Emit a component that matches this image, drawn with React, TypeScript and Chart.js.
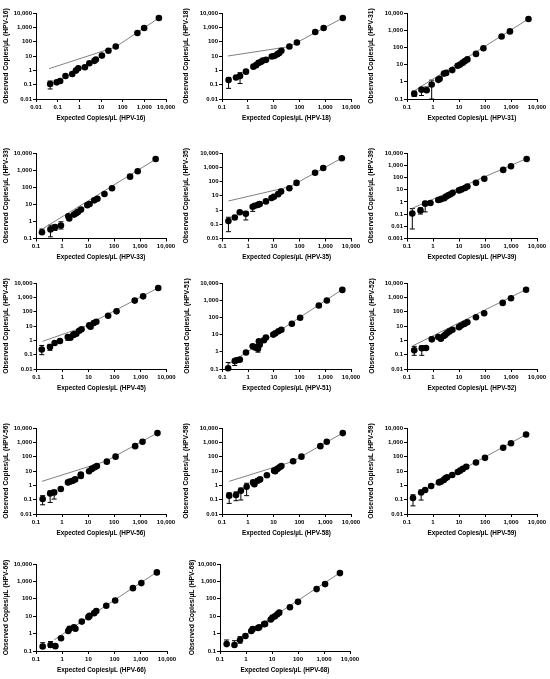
import React, { useEffect, useRef } from "react";
import { Chart, registerables } from "chart.js";
Chart.register(...registerables);

const TICK_VALUES = [0.001, 0.01, 0.1, 1, 10, 100, 1000, 10000];
const TICK_LABELS = ["0.001", "0.01", "0.1", "1", "10", "100", "1,000", "10,000"];

// ---- HPV-16
const HPV16_X = [0.045, 0.09, 0.13, 0.23, 0.47, 0.7, 0.9, 1.8, 2.9, 5, 5.8, 11, 22, 48, 480, 980, 4700];
const HPV16_Y = [0.11, 0.145, 0.18, 0.4, 0.56, 0.96, 1.4, 1.65, 3.1, 4.6, 5.6, 10.7, 23, 46, 400, 890, 4500];
const HPV16_ERR_I = [0];
const HPV16_ERR_LO = [0.05];
const HPV16_ERR_HI = [0.18];
const HPV16_LINE_X = [0.04, 46, 4700];
const HPV16_LINE_Y = [1.3, 42, 4500];
// ---- HPV-18
const HPV18_X = [0.18, 0.35, 0.5, 0.85, 1.65, 2.1, 2.6, 3.3, 3.8, 5.1, 8.5, 10.5, 14, 16.5, 20, 41, 80, 410, 870, 4800];
const HPV18_Y = [0.21, 0.32, 0.4, 0.81, 1.8, 2.3, 3.3, 3.9, 4.8, 5.4, 9.2, 10, 13, 16, 23, 46, 87, 470, 890, 4500];
const HPV18_ERR_I = [0, 2];
const HPV18_ERR_LO = [0.055, 0.12];
const HPV18_ERR_HI = [0.32, 0.69];
const HPV18_LINE_X = [0.17, 40, 4800];
const HPV18_LINE_Y = [10, 45, 4500];
// ---- HPV-31
const HPV31_X = [0.19, 0.36, 0.57, 0.89, 1.6, 1.8, 2.65, 3.2, 5.5, 8.9, 11, 14, 17, 21, 45, 87, 435, 910, 4700];
const HPV31_Y = [0.2, 0.35, 0.32, 0.69, 1.3, 1.5, 3.0, 3.3, 4.8, 8.5, 10, 13, 16, 20, 42, 89, 430, 850, 4470];
const HPV31_ERR_I = [0, 1, 2, 3];
const HPV31_ERR_LO = [0.14, 0.16, 0.28, 0.1];
const HPV31_ERR_HI = [0.29, 0.46, 0.5, 1.25];
const HPV31_LINE_X = [0.19, 4700];
const HPV31_LINE_Y = [0.3, 4500];
// ---- HPV-33
const HPV33_X = [0.17, 0.36, 0.54, 0.91, 1.75, 1.9, 2.9, 3.5, 4.1, 5.4, 9.4, 11.5, 17.5, 23, 43, 84, 415, 815, 4000];
const HPV33_Y = [0.23, 0.34, 0.46, 0.57, 2.0, 1.47, 2.5, 3.0, 3.6, 4.9, 8.9, 10.5, 17, 21, 40, 87, 415, 850, 4470];
const HPV33_ERR_I = [0, 1, 2, 3];
const HPV33_ERR_LO = [0.19, 0.125, 0.3, 0.36];
const HPV33_ERR_HI = [0.36, 0.6, 0.6, 0.95];
const HPV33_LINE_X = [0.17, 4000];
const HPV33_LINE_Y = [0.35, 4300];
// ---- HPV-35
const HPV35_X = [0.17, 0.3, 0.47, 0.81, 1.5, 1.8, 2.4, 2.8, 4.9, 8.1, 10, 14.7, 19, 40, 76, 400, 830, 4400];
const HPV35_Y = [0.17, 0.3, 0.7, 0.55, 1.7, 2.0, 2.3, 2.6, 4.0, 7, 8.5, 13, 20, 34, 80, 410, 880, 4300];
const HPV35_ERR_I = [0, 3, 4];
const HPV35_ERR_LO = [0.03, 0.2, 0.8];
const HPV35_ERR_HI = [0.31, 0.8, 1.9];
const HPV35_LINE_X = [0.17, 42, 4400];
const HPV35_LINE_Y = [4.3, 43, 4400];
// ---- HPV-39
const HPV39_X = [0.16, 0.33, 0.5, 0.8, 1.6, 2.0, 2.7, 3.2, 3.9, 4.7, 5.7, 10, 12.5, 17, 21, 45, 94, 500, 1000, 4000];
const HPV39_Y = [0.11, 0.2, 0.71, 0.81, 1.4, 1.6, 2.0, 2.7, 3.4, 4.2, 5.6, 8.7, 10.5, 13.5, 18, 36, 78, 415, 830, 3250];
const HPV39_ERR_I = [0, 1, 2];
const HPV39_ERR_LO = [0.006, 0.1, 0.15];
const HPV39_ERR_HI = [0.28, 0.32, 1.1];
const HPV39_LINE_X = [0.16, 4000];
const HPV39_LINE_Y = [0.3, 3500];
// ---- HPV-45
const HPV45_X = [0.16, 0.33, 0.5, 0.8, 1.6, 2.0, 2.6, 2.8, 3.4, 4.4, 5.4, 10.7, 12, 16, 20, 57, 120, 600, 1260, 4800];
const HPV45_Y = [0.23, 0.34, 0.65, 0.9, 1.7, 1.5, 2.4, 2.6, 2.9, 4.7, 6, 11, 9, 16, 20, 52, 105, 590, 1170, 4500];
const HPV45_ERR_I = [0, 1, 4];
const HPV45_ERR_LO = [0.1, 0.2, 1.0];
const HPV45_ERR_HI = [0.44, 0.52, 1.7];
const HPV45_LINE_X = [0.17, 6, 4800];
const HPV45_LINE_Y = [0.85, 8, 4600];
// ---- HPV-51
const HPV51_X = [0.166, 0.3, 0.35, 0.47, 0.82, 1.5, 1.85, 2.4, 2.6, 2.8, 4.1, 4.9, 9.5, 11.5, 15, 19.5, 50, 105, 560, 1150, 4600];
const HPV51_Y = [0.11, 0.29, 0.32, 0.35, 0.91, 2.1, 1.8, 1.5, 4.1, 2.6, 4.7, 6.7, 10, 12, 15.6, 19, 43, 96, 490, 960, 3960];
const HPV51_ERR_I = [0, 1, 7];
const HPV51_ERR_LO = [0.1, 0.16, 0.95];
const HPV51_ERR_HI = [0.24, 0.37, 2.7];
const HPV51_LINE_X = [0.18, 4600];
const HPV51_LINE_Y = [0.2, 4200];
// ---- HPV-52
const HPV52_X = [0.19, 0.37, 0.54, 0.9, 1.6, 2.0, 2.6, 3.0, 3.5, 4.3, 5.6, 10, 12, 16, 21, 45, 93, 480, 1000, 3800];
const HPV52_Y = [0.2, 0.28, 0.29, 1.17, 1.7, 1.3, 2.0, 2.5, 3.2, 4.2, 5.5, 8.3, 10.7, 14, 18, 41, 78, 410, 860, 3400];
const HPV52_ERR_I = [0, 1, 3, 5];
const HPV52_ERR_LO = [0.09, 0.09, 0.9, 1.0];
const HPV52_ERR_HI = [0.38, 0.42, 1.7, 1.7];
const HPV52_LINE_X = [0.17, 3800];
const HPV52_LINE_Y = [0.42, 3500];
// ---- HPV-56
const HPV56_X = [0.18, 0.35, 0.5, 0.9, 1.7, 2.0, 2.6, 3.2, 5.3, 5.3, 11, 14, 18, 22, 53, 115, 650, 1250, 4700];
const HPV56_Y = [0.11, 0.27, 0.32, 0.55, 1.6, 1.8, 2.1, 2.6, 5.6, 4.5, 9.6, 14, 18, 22, 45, 100, 540, 1100, 4400];
const HPV56_ERR_I = [0, 1, 2];
const HPV56_ERR_LO = [0.044, 0.064, 0.11];
const HPV56_ERR_HI = [0.19, 0.42, 0.47];
const HPV56_LINE_X = [0.17, 48, 4700];
const HPV56_LINE_Y = [1.9, 48, 4500];
// ---- HPV-58
const HPV58_X = [0.19, 0.35, 0.54, 0.9, 1.6, 1.8, 2.4, 3.0, 5.5, 10.5, 11.5, 14, 17, 20, 57, 120, 650, 1150, 4800];
const HPV58_Y = [0.19, 0.21, 0.42, 0.8, 1.6, 1.2, 2.1, 2.6, 5, 10.6, 9.6, 14, 18, 22, 48, 100, 540, 1100, 4400];
const HPV58_ERR_I = [0, 1, 2, 3, 4];
const HPV58_ERR_LO = [0.055, 0.085, 0.095, 0.19, 1.1];
const HPV58_ERR_HI = [0.3, 0.35, 0.65, 1.4, 1.9];
const HPV58_LINE_X = [0.19, 53, 4800];
const HPV58_LINE_Y = [1.9, 45, 4500];
// ---- HPV-59
const HPV59_X = [0.17, 0.35, 0.5, 0.85, 1.7, 2.0, 2.6, 3.0, 3.5, 5.5, 9, 11, 14, 19, 45, 100, 500, 1000, 3800];
const HPV59_Y = [0.13, 0.32, 0.47, 0.9, 1.6, 1.8, 2.4, 3.1, 3.6, 5.3, 8.6, 10.6, 14, 20, 39, 83, 415, 870, 3500];
const HPV59_ERR_I = [0, 1];
const HPV59_ERR_LO = [0.037, 0.094];
const HPV59_ERR_HI = [0.22, 0.47];
const HPV59_LINE_X = [0.3, 3800];
const HPV59_LINE_Y = [0.3, 3500];
// ---- HPV-66
const HPV66_X = [0.18, 0.36, 0.55, 0.9, 1.7, 1.9, 2.8, 3.2, 5.6, 10, 11, 16.6, 20, 48, 105, 500, 1050, 4100];
const HPV66_Y = [0.18, 0.22, 0.19, 0.54, 1.4, 1.9, 2.3, 1.9, 4.9, 8.8, 10.4, 15, 20, 40, 80, 410, 800, 3300];
const HPV66_ERR_I = [0, 1];
const HPV66_ERR_LO = [0.14, 0.16];
const HPV66_ERR_HI = [0.3, 0.35];
const HPV66_LINE_X = [0.5, 4100];
const HPV66_LINE_Y = [0.45, 3400];
// ---- HPV-68
const HPV68_X = [0.18, 0.36, 0.59, 0.95, 1.6, 1.8, 2.9, 3.2, 5.0, 5.4, 9, 10.5, 13, 16, 19, 49, 100, 520, 1100, 4100];
const HPV68_Y = [0.25, 0.22, 0.43, 0.73, 1.4, 1.8, 2.1, 2.3, 3.5, 3.6, 6.4, 8.4, 10, 13, 16, 33, 67, 360, 700, 3000];
const HPV68_ERR_I = [0, 1, 2];
const HPV68_ERR_LO = [0.22, 0.2, 0.28];
const HPV68_ERR_HI = [0.43, 0.39, 0.67];
const HPV68_LINE_X = [0.5, 4100];
const HPV68_LINE_Y = [0.45, 3100];

type PanelData = {
  name: string;
  x: number[]; y: number[];
  ei: number[]; elo: number[]; ehi: number[];
  lx: number[]; ly: number[];
  xMin: number; yMin: number;
};

const PANELS: PanelData[] = [
  { name: "HPV-16", x: HPV16_X, y: HPV16_Y, ei: HPV16_ERR_I, elo: HPV16_ERR_LO, ehi: HPV16_ERR_HI, lx: HPV16_LINE_X, ly: HPV16_LINE_Y, xMin: 0.01, yMin: 0.01 },
  { name: "HPV-18", x: HPV18_X, y: HPV18_Y, ei: HPV18_ERR_I, elo: HPV18_ERR_LO, ehi: HPV18_ERR_HI, lx: HPV18_LINE_X, ly: HPV18_LINE_Y, xMin: 0.1, yMin: 0.01 },
  { name: "HPV-31", x: HPV31_X, y: HPV31_Y, ei: HPV31_ERR_I, elo: HPV31_ERR_LO, ehi: HPV31_ERR_HI, lx: HPV31_LINE_X, ly: HPV31_LINE_Y, xMin: 0.1, yMin: 0.1 },
  { name: "HPV-33", x: HPV33_X, y: HPV33_Y, ei: HPV33_ERR_I, elo: HPV33_ERR_LO, ehi: HPV33_ERR_HI, lx: HPV33_LINE_X, ly: HPV33_LINE_Y, xMin: 0.1, yMin: 0.1 },
  { name: "HPV-35", x: HPV35_X, y: HPV35_Y, ei: HPV35_ERR_I, elo: HPV35_ERR_LO, ehi: HPV35_ERR_HI, lx: HPV35_LINE_X, ly: HPV35_LINE_Y, xMin: 0.1, yMin: 0.01 },
  { name: "HPV-39", x: HPV39_X, y: HPV39_Y, ei: HPV39_ERR_I, elo: HPV39_ERR_LO, ehi: HPV39_ERR_HI, lx: HPV39_LINE_X, ly: HPV39_LINE_Y, xMin: 0.1, yMin: 0.001 },
  { name: "HPV-45", x: HPV45_X, y: HPV45_Y, ei: HPV45_ERR_I, elo: HPV45_ERR_LO, ehi: HPV45_ERR_HI, lx: HPV45_LINE_X, ly: HPV45_LINE_Y, xMin: 0.1, yMin: 0.01 },
  { name: "HPV-51", x: HPV51_X, y: HPV51_Y, ei: HPV51_ERR_I, elo: HPV51_ERR_LO, ehi: HPV51_ERR_HI, lx: HPV51_LINE_X, ly: HPV51_LINE_Y, xMin: 0.1, yMin: 0.1 },
  { name: "HPV-52", x: HPV52_X, y: HPV52_Y, ei: HPV52_ERR_I, elo: HPV52_ERR_LO, ehi: HPV52_ERR_HI, lx: HPV52_LINE_X, ly: HPV52_LINE_Y, xMin: 0.1, yMin: 0.01 },
  { name: "HPV-56", x: HPV56_X, y: HPV56_Y, ei: HPV56_ERR_I, elo: HPV56_ERR_LO, ehi: HPV56_ERR_HI, lx: HPV56_LINE_X, ly: HPV56_LINE_Y, xMin: 0.1, yMin: 0.01 },
  { name: "HPV-58", x: HPV58_X, y: HPV58_Y, ei: HPV58_ERR_I, elo: HPV58_ERR_LO, ehi: HPV58_ERR_HI, lx: HPV58_LINE_X, ly: HPV58_LINE_Y, xMin: 0.1, yMin: 0.01 },
  { name: "HPV-59", x: HPV59_X, y: HPV59_Y, ei: HPV59_ERR_I, elo: HPV59_ERR_LO, ehi: HPV59_ERR_HI, lx: HPV59_LINE_X, ly: HPV59_LINE_Y, xMin: 0.1, yMin: 0.01 },
  { name: "HPV-66", x: HPV66_X, y: HPV66_Y, ei: HPV66_ERR_I, elo: HPV66_ERR_LO, ehi: HPV66_ERR_HI, lx: HPV66_LINE_X, ly: HPV66_LINE_Y, xMin: 0.1, yMin: 0.1 },
  { name: "HPV-68", x: HPV68_X, y: HPV68_Y, ei: HPV68_ERR_I, elo: HPV68_ERR_LO, ehi: HPV68_ERR_HI, lx: HPV68_LINE_X, ly: HPV68_LINE_Y, xMin: 0.1, yMin: 0.1 },
];

// Layout (plot-area rectangles in page pixels) — separate from data
type Box = { titleX: number; left: number; right: number; top: number; bottom: number };
const ROWS = [
  { top: 13, bottom: 99 },
  { top: 153, bottom: 238.5 },
  { top: 283, bottom: 369 },
  { top: 428, bottom: 514 },
  { top: 564, bottom: 651 },
];
const BOXES: Box[] = [
  { titleX: 6, left: 36, right: 166, ...ROWS[0] },
  { titleX: 186, left: 222, right: 351, ...ROWS[0] },
  { titleX: 371, left: 407, right: 537, ...ROWS[0] },
  { titleX: 6, left: 36, right: 166, ...ROWS[1] },
  { titleX: 186, left: 222.5, right: 351, ...ROWS[1] },
  { titleX: 371, left: 407, right: 537, ...ROWS[1] },
  { titleX: 6, left: 36.5, right: 166.5, ...ROWS[2] },
  { titleX: 187, left: 222.5, right: 351, ...ROWS[2] },
  { titleX: 372, left: 407, right: 537, ...ROWS[2] },
  { titleX: 6, left: 36, right: 166, ...ROWS[3] },
  { titleX: 186, left: 222, right: 351, ...ROWS[3] },
  { titleX: 371, left: 407, right: 537, ...ROWS[3] },
  { titleX: 6, left: 36, right: 167, ...ROWS[4] },
  { titleX: 192, left: 220, right: 350, ...ROWS[4] },
];

const FONT = "'Liberation Sans', Arial, Helvetica, sans-serif";
const Y_TITLE_SIZE = 6.8;
const X_TITLE_SIZE = 6.4;
const TICK_SIZE = 6;
const X_AXIS_H = 23;
const PAD_TOP = 8;
const PAD_RIGHT = 14;

const errorBarPlugin = {
  id: "errorBars",
  beforeDatasetsDraw(chart: any) {
    const ctx = chart.ctx;
    const xs = chart.scales.x;
    const ys = chart.scales.y;
    chart.data.datasets.forEach((ds: any) => {
      if (!ds.errIdx) return;
      ds.errIdx.forEach((idx: number, k: number) => {
        const p = ds.data[idx];
        const px = xs.getPixelForValue(p.x);
        const y1 = ys.getPixelForValue(ds.errLo[k]);
        const y2 = ys.getPixelForValue(ds.errHi[k]);
        ctx.save();
        ctx.strokeStyle = "#000";
        ctx.lineWidth = 1;
        ctx.beginPath();
        ctx.moveTo(px, y1);
        ctx.lineTo(px, y2);
        ctx.moveTo(px - 2.5, y1);
        ctx.lineTo(px + 2.5, y1);
        ctx.moveTo(px - 2.5, y2);
        ctx.lineTo(px + 2.5, y2);
        ctx.stroke();
        ctx.restore();
      });
    });
  },
};

function tickLabel(v: number) {
  const i = TICK_VALUES.findIndex((t) => Math.abs(t - v) / t < 1e-6);
  return i >= 0 ? TICK_LABELS[i] : "";
}

function Panel({ d, box }: { d: PanelData; box: Box }) {
  const ref = useRef<HTMLCanvasElement | null>(null);
  const yLh = Y_TITLE_SIZE * 1.2;
  const canvasLeft = Math.floor(box.titleX - yLh / 2 - 1);
  const canvasTop = Math.floor(box.top - PAD_TOP);
  const width = Math.ceil(box.right + PAD_RIGHT - canvasLeft);
  const height = Math.ceil(box.bottom + X_AXIS_H - canvasTop);
  const yAxisW = box.left - canvasLeft;
  const padTop = box.top - canvasTop;
  const padRight = canvasLeft + width - box.right;
  const padBottom = canvasTop + height - (box.bottom + X_AXIS_H);
  const titlePadTop = box.titleX - canvasLeft - yLh / 2;

  useEffect(() => {
    if (!ref.current) return;
    const tickFont = { family: FONT, size: TICK_SIZE, weight: "bold" as const };
    const makeTicks = (min: number) => (s: any) => {
      s.ticks = TICK_VALUES.filter((v) => v >= min - 1e-12 && v <= 10000).map((v) => ({ value: v, major: true }));
    };
    const chart = new Chart(ref.current, {
      type: "scatter",
      data: {
        datasets: [
          {
            data: d.lx.map((x, i) => ({ x, y: d.ly[i] })),
            showLine: true,
            borderColor: "#808080",
            borderWidth: 1,
            pointRadius: 0,
            order: 2,
            clip: false,
          } as any,
          {
            data: d.x.map((x, i) => ({ x, y: d.y[i] })),
            backgroundColor: "#000",
            borderColor: "#000",
            borderWidth: 0,
            pointRadius: 3.3,
            order: 1,
            clip: false,
            errIdx: d.ei,
            errLo: d.elo,
            errHi: d.ehi,
          } as any,
        ],
      },
      options: {
        responsive: false,
        animation: false,
        events: [],
        layout: { padding: { top: padTop, right: padRight, left: 0, bottom: padBottom } },
        plugins: { legend: { display: false }, tooltip: { enabled: false } },
        scales: {
          x: {
            type: "logarithmic",
            position: "bottom",
            min: d.xMin,
            max: 10000,
            afterBuildTicks: makeTicks(d.xMin),
            afterFit: (s: any) => {
              s.height = X_AXIS_H;
            },
            ticks: {
              callback: (v: any) => tickLabel(Number(v)),
              autoSkip: false,
              maxRotation: 0,
              minRotation: 0,
              padding: 1.5,
              color: "#000",
              font: tickFont,
            },
            grid: { drawOnChartArea: false, drawTicks: true, tickLength: 3, color: "#000", lineWidth: 1 },
            border: { display: true, color: "#000", width: 1 },
            title: {
              display: true,
              text: `Expected Copies/µL (${d.name})`,
              color: "#000",
              font: { family: FONT, size: X_TITLE_SIZE, weight: "bold" },
              padding: { top: 0, bottom: 0 },
            },
          },
          y: {
            type: "logarithmic",
            position: "left",
            min: d.yMin,
            max: 10000,
            afterBuildTicks: makeTicks(d.yMin),
            afterFit: (s: any) => {
              s.width = yAxisW;
            },
            ticks: {
              callback: (v: any) => tickLabel(Number(v)),
              autoSkip: false,
              padding: 1,
              color: "#000",
              font: tickFont,
            },
            grid: { drawOnChartArea: false, drawTicks: true, tickLength: 3, color: "#000", lineWidth: 1 },
            border: { display: true, color: "#000", width: 1 },
            title: {
              display: true,
              text: `Observed Copies/µL (${d.name})`,
              color: "#000",
              font: { family: FONT, size: Y_TITLE_SIZE, weight: "bold" },
              padding: { top: titlePadTop, bottom: 0 },
            },
          },
        },
      } as any,
      plugins: [errorBarPlugin],
    });
    return () => chart.destroy();
  }, []);

  return (
    <canvas
      ref={ref}
      width={width}
      height={height}
      style={{ position: "absolute", left: canvasLeft, top: canvasTop, width, height }}
    />
  );
}

export default function App() {
  return (
    <div style={{ position: "absolute", left: 0, top: 0, width: 550, height: 679, background: "#fff", overflow: "hidden" }}>
      {PANELS.map((d, i) => (
        <Panel key={d.name} d={d} box={BOXES[i]} />
      ))}
    </div>
  );
}
